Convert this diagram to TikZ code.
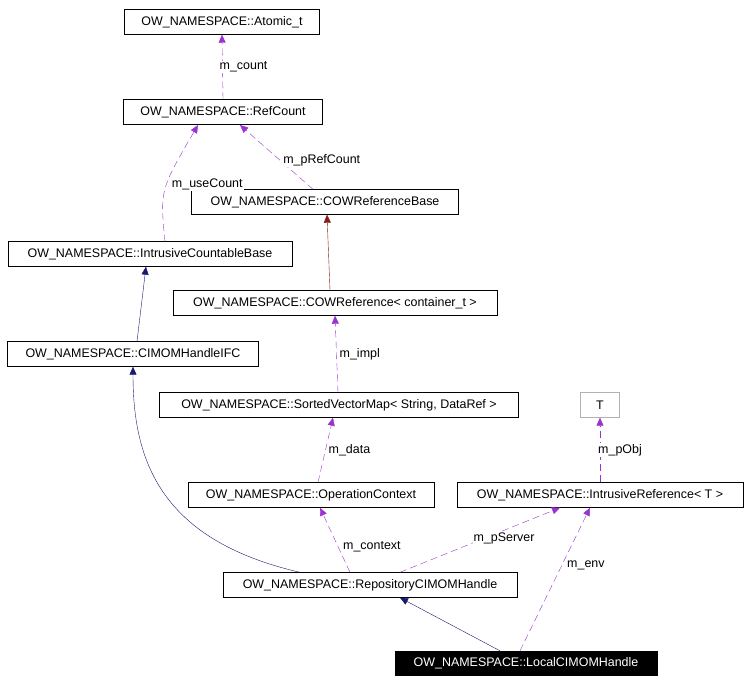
\documentclass[tikz,border=0pt]{standalone}
\usepackage{fontspec}
\setmainfont{Liberation Sans}
\usetikzlibrary{arrows.meta}
\definecolor{purp}{HTML}{9A32CD}
\definecolor{navy}{HTML}{191970}
\definecolor{dred}{HTML}{8B1A1A}
\begin{document}
\begin{tikzpicture}[x=1bp, y=-1bp, font=\fontsize{12.5}{14}\selectfont,
		box_style/.style={draw=black, minimum height=25bp, inner sep=0pt},
		use_style/.style={draw=purp, dashed, dash pattern=on 7bp off 4bp, -{Triangle[fill=purp,length=8bp,width=7bp]}},
		inh_style/.style={draw=navy, -{Triangle[fill=navy,length=8bp,width=7bp]}},
		tmpl_style/.style={draw=dred, -{Triangle[fill=dred,length=8bp,width=7bp]}},
		lbl_style/.style={fill=white, inner sep=1pt}]
		\useasboundingbox (0,0) rectangle (749,683);

		\node[box_style, minimum width=195bp] (atomic) at (222,22) {OW\_NAMESPACE::Atomic\_t};
		\node[box_style, minimum width=199bp] (refcount) at (223,112) {OW\_NAMESPACE::RefCount};
		\node[box_style, minimum width=267bp] (cowbase) at (325,202) {OW\_NAMESPACE::COWReferenceBase};
		\node[box_style, minimum width=284bp] (countable) at (150,254) {OW\_NAMESPACE::IntrusiveCountableBase};
		\node[box_style, minimum width=324bp] (cowref) at (335,303) {OW\_NAMESPACE::COWReference< container\_t >};
		\node[box_style, minimum width=251bp] (handleifc) at (133,354) {OW\_NAMESPACE::CIMOMHandleIFC};
		\node[box_style, minimum width=359bp] (sortedmap) at (339,405) {OW\_NAMESPACE::SortedVectorMap< String, DataRef >};
		\node[box_style, draw=black!30, minimum width=39bp] (t) at (600,405) {T};
		\node[box_style, minimum width=246bp] (opcontext) at (311,495) {OW\_NAMESPACE::OperationContext};
		\node[box_style, minimum width=286bp] (intrref) at (600,495) {OW\_NAMESPACE::IntrusiveReference< T >};
		\node[box_style, minimum width=294bp] (repo) at (370,585) {OW\_NAMESPACE::RepositoryCIMOMHandle};
		\node[box_style, fill=black, text=white, minimum width=262bp, minimum height=24bp] (local) at (526,663) {OW\_NAMESPACE::LocalCIMOMHandle};

		\draw[use_style] (refcount.north) -- node[lbl_style, right=-4bp] {m\_count} (atomic.south);
		\draw[use_style] (cowbase.north -| 313,0) -- node[lbl_style, pos=.45, right=2bp] {m\_pRefCount} (240,125);
		\draw[use_style] (165,242) .. controls (160,190) .. node[lbl_style, pos=.55, right=4bp] {m\_useCount} (198,125);
		\draw[tmpl_style] (cowref.north -| 330,0) -- (cowbase.south -| 327,0);
		\draw[inh_style] (handleifc.north -| 137,0) -- (countable.south -| 146,0);
		\draw[use_style] (sortedmap.north -| 338,0) -- node[lbl_style, right=2bp] {m\_impl} (cowref.south);
		\draw[use_style] (opcontext.north -| 318,0) -- node[lbl_style, right=2bp] {m\_data} (sortedmap.south -| 333,0);
		\draw[use_style] (intrref.north) -- node[lbl_style, right=-3bp] {m\_pObj} (t.south);
		\draw[inh_style] (repo.north -| 300,0) .. controls (160,540) and (133,460) .. (handleifc.south);
		\draw[use_style] (repo.north -| 350,0) -- node[lbl_style, pos=.4, right=4bp] {m\_context} (opcontext.south -| 320,0);
		\draw[use_style] (repo.north -| 400,0) -- node[lbl_style, pos=.65, below=1bp] {m\_pServer} (intrref.south -| 560,0);
		\draw[inh_style] (local.north -| 500,0) -- (repo.south -| 400,0);
		\draw[use_style] (local.north -| 520,0) -- node[lbl_style, pos=.6, right=4bp] {m\_env} (intrref.south -| 590,0);
\end{tikzpicture}
\end{document}
